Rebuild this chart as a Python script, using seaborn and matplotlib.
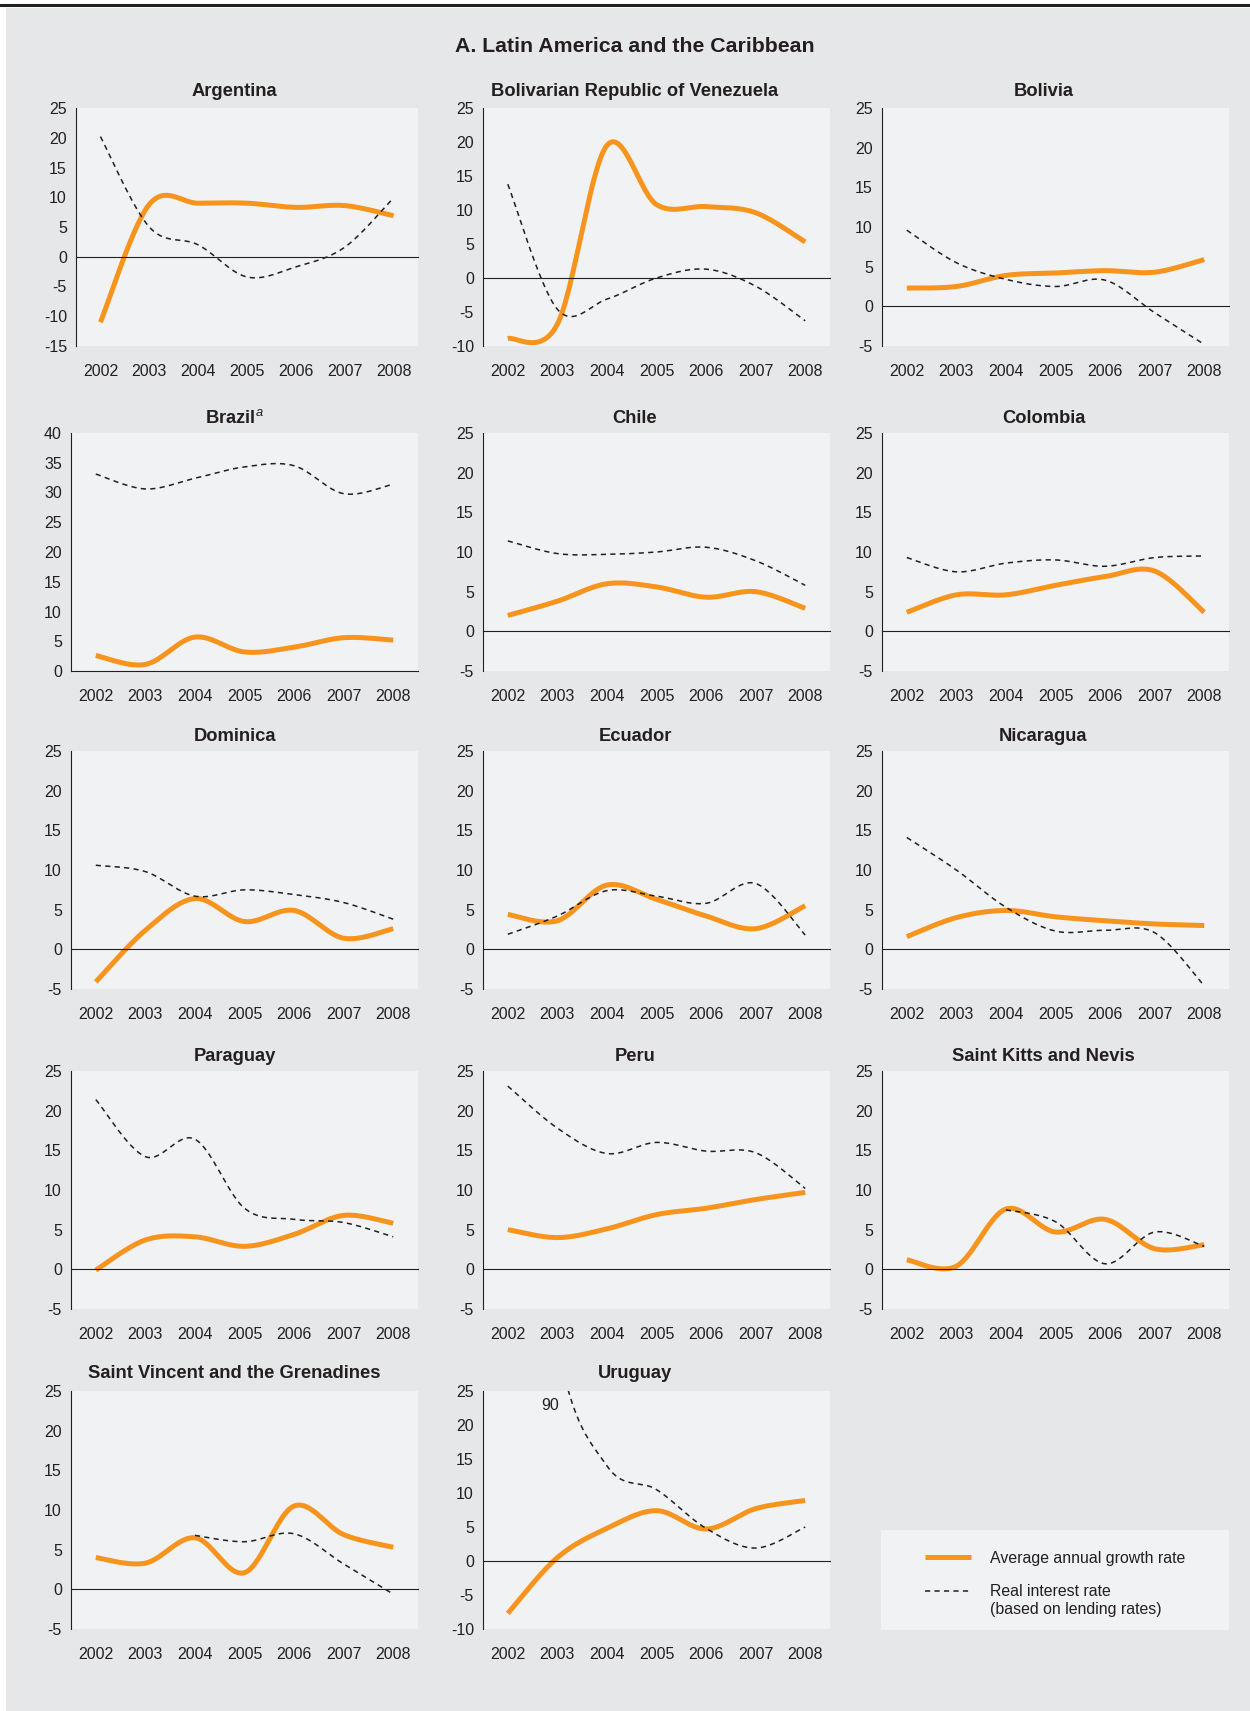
import numpy as np
import matplotlib
matplotlib.use("Agg")
import matplotlib.pyplot as plt
import seaborn as sns
from matplotlib.patches import Rectangle
from matplotlib.lines import Line2D
from matplotlib.legend_handler import HandlerLine2D

# ---------------------------------------------------------------- data
years = ["2002", "2003", "2004", "2005", "2006", "2007", "2008"]
nan = np.nan

argentina_growth = [-11.0, 8.8, 9.0, 9.0, 8.3, 8.6, 6.9]
argentina_rate = [20.2, 5.0, 2.0, -3.4, -1.7, 1.6, 9.9]

venezuela_growth = [-8.9, -6.8, 19.5, 10.8, 10.5, 9.6, 5.3]
venezuela_rate = [13.8, -4.6, -3.1, 0.0, 1.3, -1.2, -6.3]

bolivia_growth = [2.3, 2.5, 3.9, 4.2, 4.5, 4.3, 5.9]
bolivia_rate = [9.6, 5.5, 3.4, 2.5, 3.3, -0.8, -4.8]

brazil_growth = [2.6, 1.1, 5.7, 3.2, 4.0, 5.6, 5.2]
brazil_rate = [33.1, 30.6, 32.4, 34.3, 34.5, 29.8, 31.4]

chile_growth = [2.0, 3.8, 6.0, 5.6, 4.3, 5.0, 2.9]
chile_rate = [11.4, 9.8, 9.7, 10.0, 10.6, 8.9, 5.8]

colombia_growth = [2.4, 4.6, 4.6, 5.8, 6.9, 7.6, 2.4]
colombia_rate = [9.3, 7.5, 8.6, 9.0, 8.2, 9.3, 9.5]

dominica_growth = [-4.1, 2.4, 6.4, 3.5, 4.9, 1.4, 2.6]
dominica_rate = [10.6, 9.8, 6.7, 7.5, 6.9, 5.9, 3.8]

ecuador_growth = [4.4, 3.6, 8.1, 6.3, 4.2, 2.6, 5.5]
ecuador_rate = [1.9, 4.2, 7.4, 6.7, 5.8, 8.3, 1.8]

nicaragua_growth = [1.6, 4.0, 4.9, 4.1, 3.6, 3.2, 3.0]
nicaragua_rate = [14.1, 10.0, 5.3, 2.3, 2.4, 2.1, -4.6]

paraguay_growth = [-0.1, 3.7, 4.1, 2.9, 4.4, 6.8, 5.8]
paraguay_rate = [21.4, 14.2, 16.4, 7.7, 6.3, 5.9, 4.1]

peru_growth = [5.0, 4.0, 5.1, 6.9, 7.7, 8.8, 9.7]
peru_rate = [23.1, 17.8, 14.6, 16.0, 14.9, 14.7, 10.2]

stkitts_growth = [1.2, 0.4, 7.6, 4.7, 6.3, 2.6, 3.1]
stkitts_rate = [nan, nan, 7.5, 6.0, 0.7, 4.7, 2.9]

stvincent_growth = [4.0, 3.3, 6.5, 2.1, 10.5, 6.9, 5.3]
stvincent_rate = [nan, nan, 6.8, 6.0, 7.0, 3.2, -0.6]

uruguay_growth = [-7.7, 0.5, 4.8, 7.4, 4.7, 7.7, 8.9]
uruguay_rate = [90.0, 32.0, 14.0, 10.5, 4.8, 1.9, 5.0]

titles = ["Argentina", "Bolivarian Republic of Venezuela", "Bolivia",
          r"Brazil$^{\mathit{a}}$", "Chile", "Colombia",
          "Dominica", "Ecuador", "Nicaragua",
          "Paraguay", "Peru", "Saint Kitts and Nevis",
          "Saint Vincent and the Grenadines", "Uruguay"]
growth = [argentina_growth, venezuela_growth, bolivia_growth,
          brazil_growth, chile_growth, colombia_growth,
          dominica_growth, ecuador_growth, nicaragua_growth,
          paraguay_growth, peru_growth, stkitts_growth,
          stvincent_growth, uruguay_growth]
rates = [argentina_rate, venezuela_rate, bolivia_rate,
         brazil_rate, chile_rate, colombia_rate,
         dominica_rate, ecuador_rate, nicaragua_rate,
         paraguay_rate, peru_rate, stkitts_rate,
         stvincent_rate, uruguay_rate]
y_ranges = [(-15, 25), (-10, 25), (-5, 25),
            (0, 40), (-5, 25), (-5, 25),
            (-5, 25), (-5, 25), (-5, 25),
            (-5, 25), (-5, 25), (-5, 25),
            (-5, 25), (-10, 25)]

legend_labels = ["Average annual growth rate",
                 "Real interest rate\n(based on lending rates)"]

# ---------------------------------------------------------------- style
ORANGE = "#f7941d"
INK = "#231f20"
PANEL_BG = "#e6e7e8"
PLOT_BG = "#f1f2f3"
TICK_FS = 11.5

sns.set_theme(style="white")
plt.rcParams["font.family"] = ["Liberation Sans", "DejaVu Sans"]
plt.rcParams["axes.unicode_minus"] = False
plt.rcParams["mathtext.fontset"] = "custom"
plt.rcParams["mathtext.rm"] = "Liberation Sans"
plt.rcParams["mathtext.it"] = "Liberation Sans:italic"
plt.rcParams["mathtext.bf"] = "Liberation Sans:bold"


def smooth_curve(values, n=30):
    """Bezier smoothing through the yearly points (spreadsheet-style)."""
    y = np.asarray(values, float)
    xs = np.arange(len(y)) + 0.5
    ok = ~np.isnan(y)
    pts = np.column_stack([xs[ok], y[ok]])
    m = len(pts)
    out = []
    for i in range(m - 1):
        p0, p3 = pts[i], pts[i + 1]
        prev = pts[i - 1] if i > 0 else p0
        nxt = pts[i + 2] if i + 2 < m else p3
        c1 = p0 + (p3 - prev) / 6.0
        c2 = p3 - (nxt - p0) / 6.0
        t = np.linspace(0, 1, n, endpoint=(i == m - 2))[:, None]
        seg = ((1 - t) ** 3) * p0 + 3 * t * (1 - t) ** 2 * c1 \
            + 3 * t ** 2 * (1 - t) * c2 + t ** 3 * p3
        out.append(seg)
    c = np.vstack(out)
    return c[:, 0], c[:, 1]


class HandlerFirstLine(HandlerLine2D):
    """Legend line drawn level with the first line of a two-line label."""

    def create_artists(self, legend, orig_handle, xdescent, ydescent,
                       width, height, fontsize, trans):
        artists = super().create_artists(legend, orig_handle, xdescent,
                                         ydescent, width, height, fontsize,
                                         trans)
        for a in artists:
            a.set_ydata(np.asarray(a.get_ydata()) + fontsize * 0.65)
        return artists


W, H = 1250, 1711
fig = plt.figure(figsize=(W / 100, H / 100), dpi=100, facecolor="white")

# grey backdrop and top rule
fig.patches.append(Rectangle((6 / W, 0), 1 - 6 / W, 1 - 8 / H,
                             transform=fig.transFigure, facecolor=PANEL_BG,
                             edgecolor="none", zorder=-10))
fig.add_artist(Line2D([0, 1], [1 - 4.5 / H] * 2, transform=fig.transFigure,
                      color=INK, lw=2.2))

fig.text(635 / W, 1 - 46 / H, "A. Latin America and the Caribbean",
         ha="center", va="center", fontsize=15.3, fontweight="bold", color=INK)

col_left = [71, 483, 882]
col_title = [234.5, 635, 1043.5]
row_top = [108, 433, 751, 1071, 1391]
row_title_pad = [8.5, 7, 7.3, 7, 9.5]
AX_W, AX_H = 347, 238

axes = []
for k, title in enumerate(titles):
    r, c = divmod(k, 3)
    left = col_left[c] + (5 if k == 0 else 0)
    width = AX_W - (5 if k == 0 else 0)
    top = row_top[r]
    ax = fig.add_axes([left / W, 1 - (top + AX_H) / H, width / W, AX_H / H])
    ax.set_facecolor(PLOT_BG)

    gx, gy = smooth_curve(growth[k])
    sns.lineplot(x=gx, y=gy, ax=ax, color=ORANGE, linewidth=3.6,
                 sort=False, estimator=None, solid_capstyle="butt")
    rx, ry = smooth_curve(rates[k])
    sns.lineplot(x=rx, y=ry, ax=ax, color=INK, linewidth=1.1,
                 sort=False, estimator=None, linestyle=(0, (3.4, 2.8)))

    lo, hi = y_ranges[k]
    ax.set_xlim(0, 7)
    ax.set_ylim(lo, hi)
    ax.set_yticks(np.arange(lo, hi + 1, 5))
    ax.set_xlabel("")
    ax.set_ylabel("")

    for s in ["top", "right"]:
        ax.spines[s].set_visible(False)
    ax.spines["bottom"].set_position(("data", 0))
    for s in ["left", "bottom"]:
        ax.spines[s].set_color(INK)
        ax.spines[s].set_linewidth(0.8)

    ax.set_xticks(range(8))
    ax.set_xticklabels([])
    ax.tick_params(axis="x", direction="in", length=5, width=0.8, color=INK)
    ax.tick_params(axis="y", direction="in", length=5, width=0.8, color=INK,
                   labelsize=TICK_FS, labelcolor=INK, pad=6.5)

    sec = ax.secondary_xaxis("bottom")
    sec.set_xticks(np.arange(7) + 0.5, labels=years)
    sec.tick_params(length=0, pad=13, labelsize=TICK_FS, labelcolor=INK)
    sec.spines["bottom"].set_visible(False)

    frac = (col_title[c] - left) / width
    ax.set_title(title, x=frac, fontsize=13.2, fontweight="bold", color=INK,
                 pad=row_title_pad[r])
    axes.append(ax)

# off-scale value for Uruguay in 2002
axes[13].text(1.35, 22.8, f"{uruguay_rate[0]:.0f}", ha="center", va="center",
              fontsize=TICK_FS, color=INK)

# legend
fig.patches.append(Rectangle((881 / W, 1 - 1630 / H), 348 / W, 100 / H,
                             transform=fig.transFigure, facecolor=PLOT_BG,
                             edgecolor="none", zorder=-5))
orange_handle = Line2D([], [], color=ORANGE, lw=3.6, solid_capstyle="butt")
rate_handle = Line2D([], [], color=INK, lw=1.1, linestyle=(0, (3.4, 2.8)))
fig.legend([orange_handle, rate_handle], legend_labels, loc="upper left",
           bbox_to_anchor=(925 / W, 1 - 1551 / H), frameon=False,
           fontsize=11.4, handlelength=2.9, handletextpad=1.2,
           labelspacing=1.15, borderpad=0, borderaxespad=0, labelcolor=INK,
           handler_map={rate_handle: HandlerFirstLine()})

fig.savefig("out.png", dpi=100, facecolor=fig.get_facecolor())
